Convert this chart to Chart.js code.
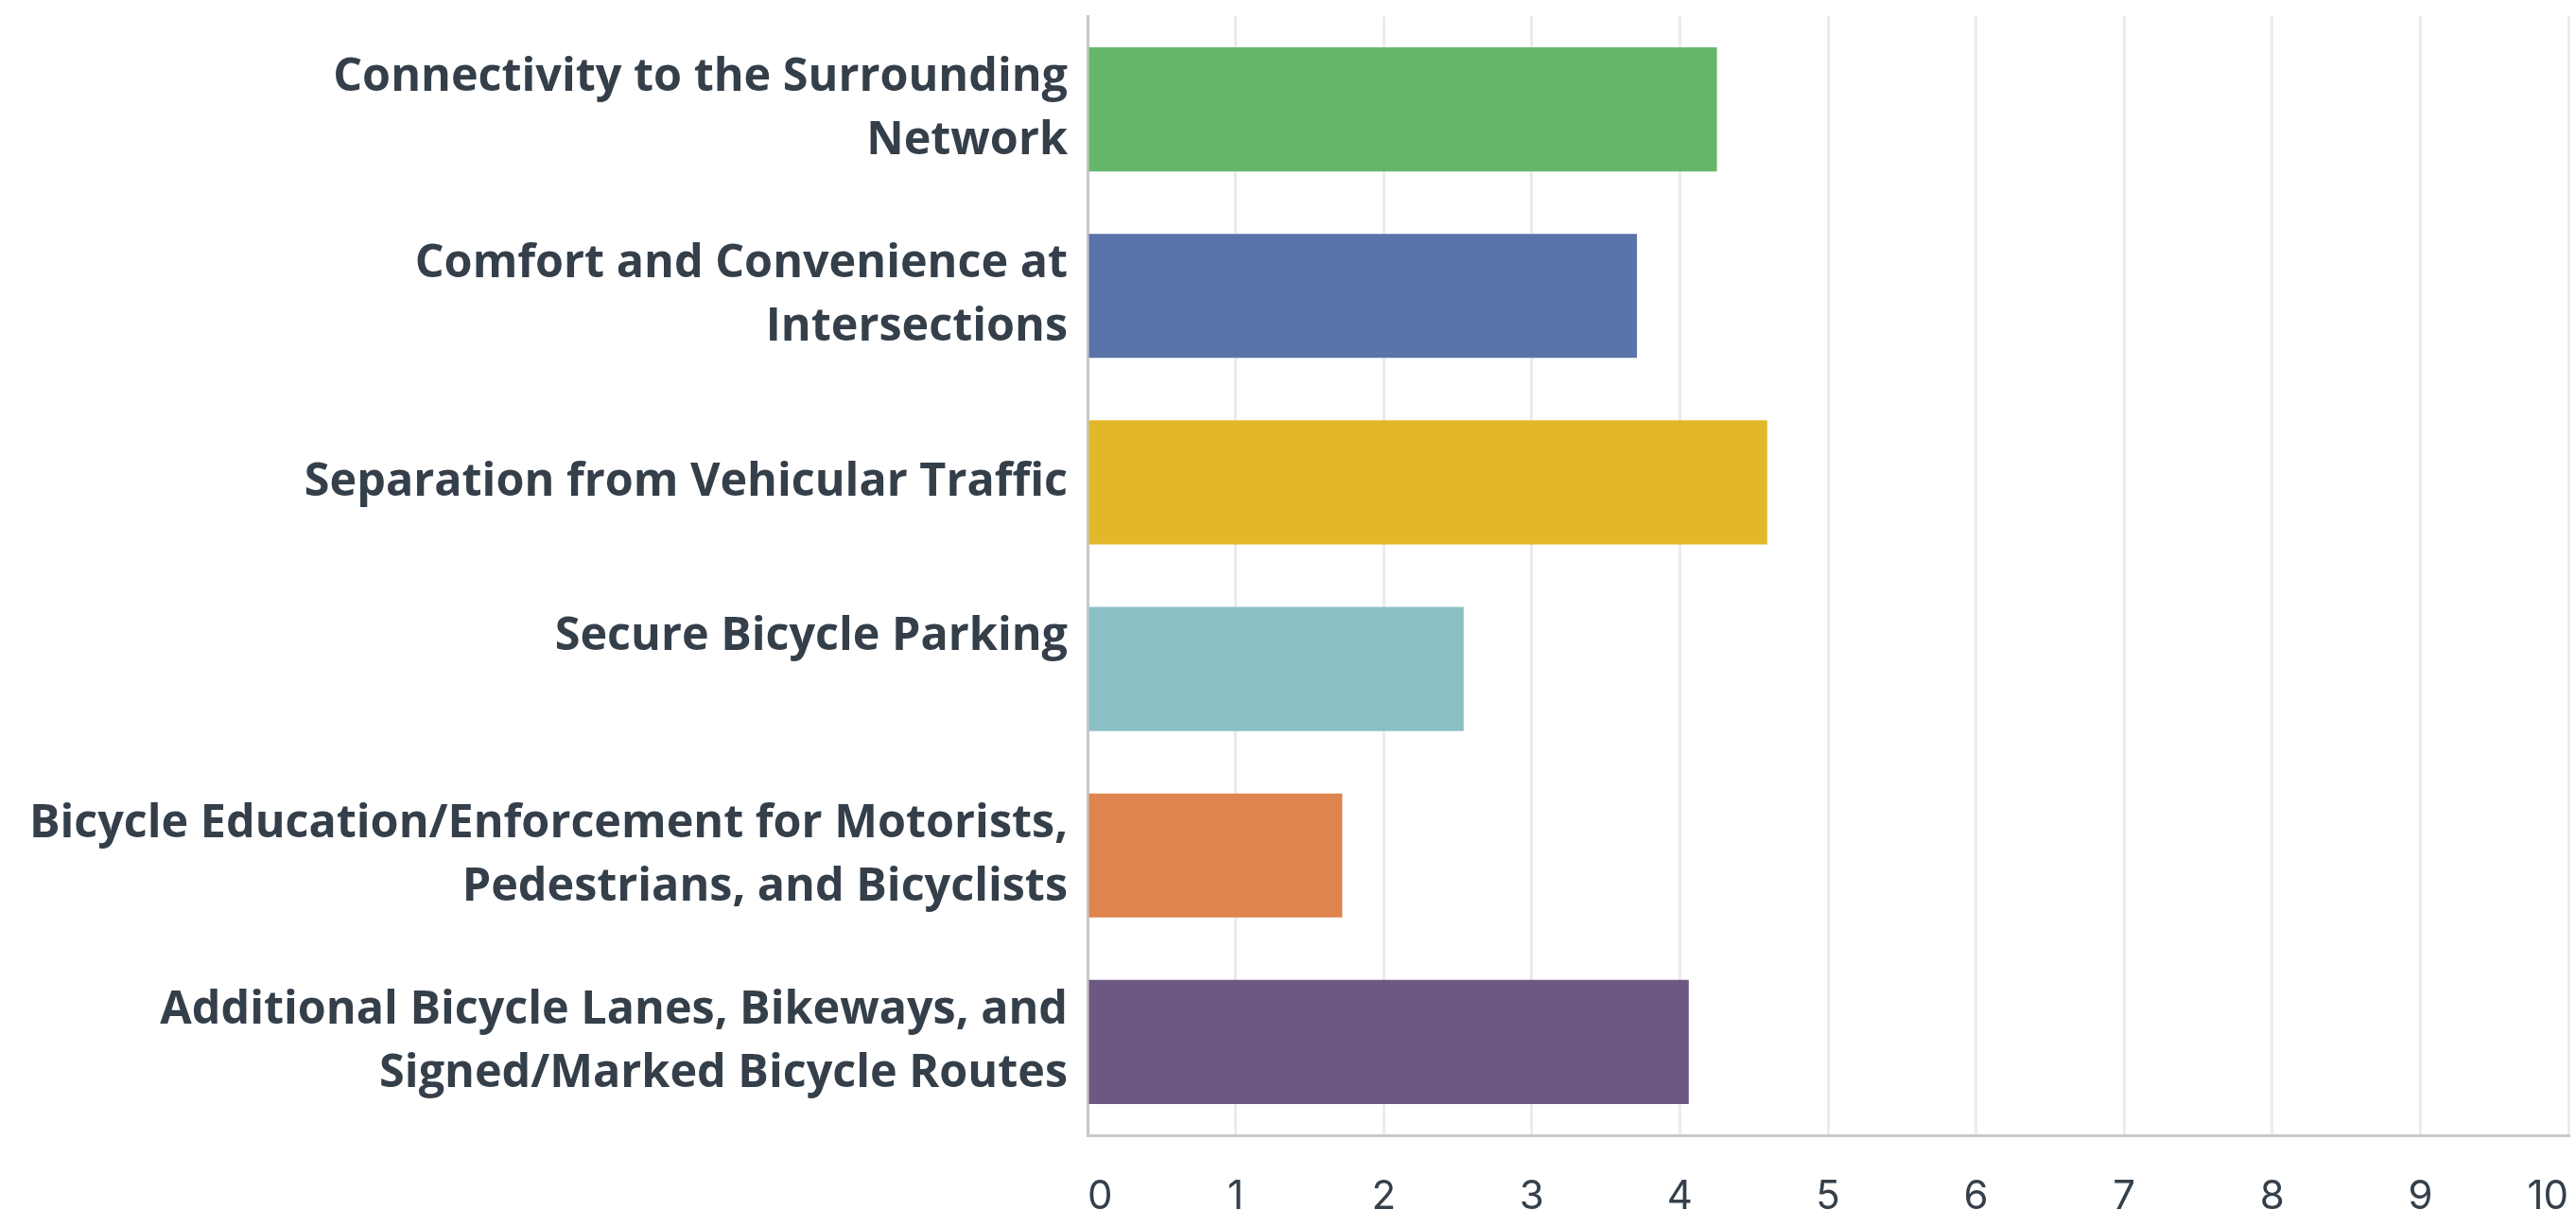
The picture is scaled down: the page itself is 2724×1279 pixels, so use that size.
<!DOCTYPE html>
<html>
<head>
<meta charset="utf-8">
<script src="https://cdn.jsdelivr.net/npm/chart.js@4"></script>
<style>
  html, body { margin: 0; padding: 0; background: #fff; overflow: hidden; }
  #chart { width: 2724px; height: 1279px; overflow: hidden; }
</style>
</head>
<body>
<div id="chart"></div>
<script>
const categories = [
  ["Connectivity to the Surrounding", "Network"],
  ["Comfort and Convenience at", "Intersections"],
  "Separation from Vehicular Traffic",
  ["Secure Bicycle Parking", ""], // sits above the bar centre in the original
  ["Bicycle Education/Enforcement for Motorists,", "Pedestrians, and Bicyclists"],
  ["Additional Bicycle Lanes, Bikeways, and", "Signed/Marked Bicycle Routes"],
];
const scores = [4.25, 3.71, 4.59, 2.54, 1.72, 4.06];
const barColors = ["#66b76b", "#5a73aa", "#e2b72a", "#8bc0c5", "#de844e", "#6c5883"];
const xTicks = [0, 1, 2, 3, 4, 5, 6, 7, 8, 9, 10];

const canvas = document.createElement("canvas");
canvas.width = 2724;
canvas.height = 1279;
document.getElementById("chart").appendChild(canvas);

// keep the plot area where the reference has it, labels may overhang
const noEdgePadding = (scale) => {
  scale.paddingTop = 0;
  scale.paddingBottom = 0;
  scale.paddingLeft = 0;
  scale.paddingRight = 0;
};

new Chart(canvas.getContext("2d"), {
  type: "bar",
  data: {
    labels: categories,
    datasets: [
      {
        data: scores,
        backgroundColor: barColors,
        borderWidth: 0,
        barPercentage: 0.665,
        categoryPercentage: 1,
      },
    ],
  },
  options: {
    responsive: false,
    animation: false,
    indexAxis: "y", // horizontal bars
    layout: { padding: { top: 17, right: 8, left: 0, bottom: 0 } },
    scales: {
      x: {
        min: xTicks[0],
        max: xTicks[xTicks.length - 1],
        afterBuildTicks: (scale) => {
          scale.ticks = xTicks.map((v) => ({ value: v }));
        },
        afterFit: (scale) => {
          noEdgePadding(scale);
          scale.height = 79; // axis line at y=1200, labels run off the bottom
        },
        grid: { color: "#ebebeb", lineWidth: 3, drawTicks: false },
        border: { color: "#c8c8c8", width: 3 },
        ticks: {
          align: "inner",
          padding: 40,
          color: "#36404a",
          font: { family: "Inter", size: 42 },
        },
      },
      y: {
        afterFit: (scale) => {
          noEdgePadding(scale);
          scale.width = 1150; // label column up to the axis at x=1150
        },
        grid: { display: false, drawTicks: false },
        border: { color: "#c8c8c8", width: 3 },
        ticks: {
          padding: 21,
          color: "#343f4a",
          font: { family: "Open Sans", weight: "bold", size: 48.5, lineHeight: 1.38 },
        },
      },
    },
    plugins: {
      legend: { display: false },
      tooltip: { enabled: false },
    },
  },
});
</script>
</body>
</html>
